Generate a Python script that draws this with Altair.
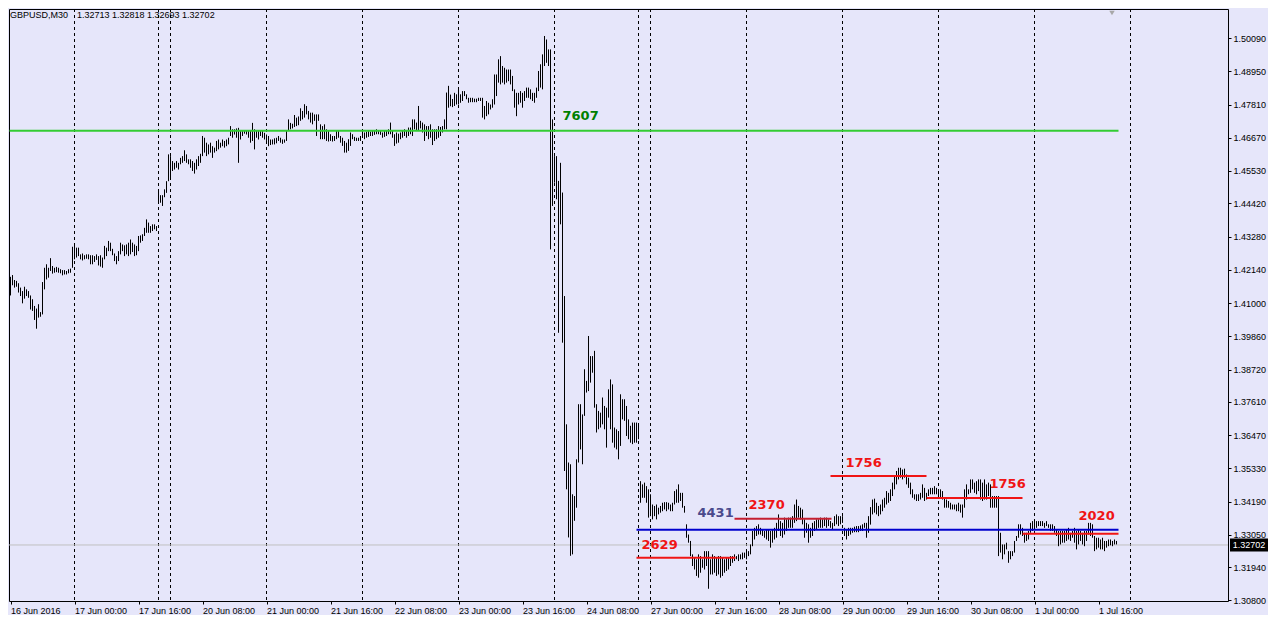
import json
import altair as alt
import pandas as pd

# ---- OHLC bars (M30), high / low per bar ----
HIGH = [
    1.4190,1.4196,1.4179,1.4176,1.4168,1.4153,1.4141,1.4156,1.4147,1.4141,
    1.4126,1.4113,1.4090,1.4081,1.4096,1.4069,1.4172,1.4221,1.4233,1.4221,
    1.4254,1.4227,1.4221,1.4224,1.4221,1.4216,1.4213,1.4213,1.4210,1.4216,
    1.4218,1.4293,1.4296,1.4290,1.4290,1.4267,1.4270,1.4264,1.4267,1.4267,
    1.4264,1.4264,1.4261,1.4267,1.4261,1.4264,1.4256,1.4296,1.4290,1.4313,
    1.4307,1.4286,1.4270,1.4261,1.4278,1.4307,1.4301,1.4298,1.4301,1.4307,
    1.4318,1.4307,1.4301,1.4296,1.4330,1.4332,1.4336,1.4358,1.4387,1.4376,
    1.4364,1.4370,1.4370,1.4364,1.4486,1.4470,1.4470,1.4490,1.4518,1.4610,
    1.4604,1.4587,1.4581,1.4587,1.4581,1.4598,1.4604,1.4624,1.4610,1.4593,
    1.4593,1.4587,1.4581,1.4593,1.4604,1.4612,1.4673,1.4667,1.4650,1.4644,
    1.4650,1.4638,1.4633,1.4656,1.4661,1.4650,1.4661,1.4656,1.4661,1.4667,
    1.4707,1.4696,1.4696,1.4699,1.4701,1.4690,1.4690,1.4692,1.4692,1.4690,
    1.4692,1.4718,1.4696,1.4690,1.4692,1.4690,1.4690,1.4684,1.4678,1.4673,
    1.4661,1.4661,1.4665,1.4667,1.4673,1.4667,1.4661,1.4661,1.4690,1.4730,
    1.4718,1.4715,1.4745,1.4736,1.4740,1.4768,1.4759,1.4782,1.4776,1.4759,
    1.4753,1.4753,1.4747,1.4747,1.4747,1.4713,1.4707,1.4713,1.4696,1.4690,
    1.4679,1.4673,1.4673,1.4690,1.4690,1.4673,1.4667,1.4656,1.4650,1.4662,
    1.4685,1.4679,1.4670,1.4667,1.4667,1.4673,1.4690,1.4685,1.4688,1.4690,
    1.4688,1.4690,1.4693,1.4696,1.4693,1.4690,1.4685,1.4690,1.4693,1.4696,
    1.4719,1.4693,1.4679,1.4685,1.4681,1.4685,1.4690,1.4696,1.4690,1.4702,
    1.4702,1.4730,1.4730,1.4719,1.4776,1.4725,1.4719,1.4713,1.4707,1.4707,
    1.4713,1.4696,1.4696,1.4696,1.4707,1.4704,1.4707,1.4730,1.4822,1.4845,
    1.4815,1.4800,1.4821,1.4816,1.4833,1.4816,1.4827,1.4827,1.4816,1.4804,
    1.4804,1.4804,1.4801,1.4801,1.4804,1.4804,1.4804,1.4776,1.4793,1.4787,
    1.4781,1.4799,1.4884,1.4884,1.4936,1.4947,1.4913,1.4907,1.4901,1.4901,
    1.4901,1.4879,1.4833,1.4821,1.4821,1.4827,1.4821,1.4827,1.4839,1.4839,
    1.4833,1.4821,1.4821,1.4839,1.4896,1.4919,1.4953,1.5016,1.5004,1.4970,
    1.4970,1.4730,1.4604,1.4604,1.4519,1.4581,1.4479,1.4124,1.3684,1.3553,
    1.3547,1.3444,1.3438,1.3564,1.3753,1.3753,1.3718,1.3873,1.3833,1.3987,
    1.3918,1.3918,1.3936,1.3753,1.3730,1.3724,1.3776,1.3747,1.3741,1.3804,
    1.3838,1.3821,1.3673,1.3667,1.3661,1.3787,1.3770,1.3770,1.3747,1.3701,
    1.3679,1.3690,1.3690,1.3690,1.3679,1.3489,1.3478,1.3484,1.3472,1.3461,
    1.3444,1.3409,1.3404,1.3409,1.3398,1.3404,1.3415,1.3417,1.3417,1.3415,
    1.3409,1.3415,1.3455,1.3461,1.3478,1.3449,1.3449,1.3404,1.3341,1.3306,
    1.3284,1.3238,1.3226,1.3221,1.3238,1.3232,1.3221,1.3249,1.3249,1.3249,
    1.3221,1.3238,1.3232,1.3226,1.3232,1.3232,1.3226,1.3221,1.3226,1.3226,
    1.3232,1.3232,1.3238,1.3232,1.3238,1.3238,1.3244,1.3244,1.3249,1.3249,
    1.3272,1.3318,1.3329,1.3335,1.3341,1.3329,1.3324,1.3318,1.3324,1.3324,
    1.3318,1.3324,1.3329,1.3346,1.3375,1.3352,1.3346,1.3364,1.3358,1.3364,
    1.3364,1.3369,1.3409,1.3426,1.3404,1.3398,1.3392,1.3358,1.3346,1.3341,
    1.3329,1.3346,1.3352,1.3358,1.3358,1.3364,1.3358,1.3364,1.3364,1.3358,
    1.3352,1.3346,1.3369,1.3375,1.3369,1.3369,1.3369,1.3329,1.3324,1.3329,
    1.3329,1.3329,1.3333,1.3335,1.3335,1.3337,1.3341,1.3346,1.3346,1.3369,
    1.3400,1.3426,1.3429,1.3415,1.3404,1.3409,1.3426,1.3432,1.3455,1.3449,
    1.3461,1.3484,1.3506,1.3524,1.3535,1.3535,1.3529,1.3532,1.3512,1.3501,
    1.3484,1.3461,1.3444,1.3444,1.3444,1.3449,1.3478,1.3466,1.3449,1.3461,
    1.3466,1.3466,1.3472,1.3466,1.3461,1.3461,1.3455,1.3432,1.3426,1.3421,
    1.3415,1.3409,1.3409,1.3409,1.3415,1.3409,1.3409,1.3461,1.3478,1.3461,
    1.3495,1.3495,1.3484,1.3489,1.3495,1.3495,1.3484,1.3495,1.3478,1.3484,
    1.3478,1.3438,1.3438,1.3438,1.3438,1.3312,1.3272,1.3272,1.3278,1.3249,
    1.3249,1.3249,1.3284,1.3301,1.3341,1.3341,1.3329,1.3312,1.3312,1.3318,
    1.3346,1.3352,1.3352,1.3352,1.3352,1.3352,1.3352,1.3346,1.3352,1.3341,
    1.3341,1.3341,1.3335,1.3324,1.3318,1.3318,1.3318,1.3318,1.3324,1.3329,
    1.3312,1.3318,1.3329,1.3318,1.3324,1.3318,1.3312,1.3318,1.3318,1.3346,
    1.3346,1.3341,1.3301,1.3295,1.3295,1.3289,1.3295,1.3284,1.3284,1.3289,
    1.3289,1.3284,1.3289,1.3284,
]
LOW = [
    1.4126,1.4161,1.4153,1.4156,1.4136,1.4124,1.4099,1.4115,1.4124,1.4118,
    1.4078,1.4073,1.4042,1.4012,1.4050,1.4053,1.4061,1.4147,1.4181,1.4187,
    1.4210,1.4201,1.4204,1.4206,1.4204,1.4202,1.4195,1.4198,1.4198,1.4202,
    1.4204,1.4221,1.4250,1.4256,1.4261,1.4250,1.4246,1.4250,1.4252,1.4250,
    1.4233,1.4233,1.4241,1.4248,1.4229,1.4225,1.4221,1.4250,1.4261,1.4278,
    1.4278,1.4264,1.4244,1.4233,1.4244,1.4267,1.4278,1.4261,1.4267,1.4261,
    1.4267,1.4275,1.4261,1.4264,1.4278,1.4307,1.4313,1.4330,1.4341,1.4341,
    1.4341,1.4347,1.4353,1.4347,1.4450,1.4444,1.4433,1.4463,1.4478,1.4518,
    1.4530,1.4553,1.4558,1.4564,1.4558,1.4576,1.4581,1.4587,1.4581,1.4576,
    1.4564,1.4553,1.4544,1.4558,1.4570,1.4581,1.4604,1.4616,1.4604,1.4610,
    1.4616,1.4598,1.4616,1.4621,1.4627,1.4633,1.4638,1.4633,1.4638,1.4644,
    1.4673,1.4667,1.4678,1.4667,1.4581,1.4661,1.4673,1.4681,1.4678,1.4667,
    1.4650,1.4656,1.4627,1.4667,1.4661,1.4673,1.4667,1.4661,1.4656,1.4638,
    1.4642,1.4644,1.4644,1.4648,1.4656,1.4650,1.4646,1.4650,1.4656,1.4690,
    1.4696,1.4699,1.4704,1.4707,1.4710,1.4725,1.4730,1.4736,1.4747,1.4730,
    1.4719,1.4713,1.4725,1.4673,1.4725,1.4662,1.4662,1.4662,1.4656,1.4654,
    1.4656,1.4654,1.4656,1.4662,1.4667,1.4650,1.4639,1.4616,1.4616,1.4622,
    1.4639,1.4662,1.4656,1.4656,1.4656,1.4656,1.4667,1.4662,1.4667,1.4670,
    1.4673,1.4673,1.4677,1.4679,1.4679,1.4677,1.4667,1.4670,1.4673,1.4679,
    1.4679,1.4667,1.4639,1.4647,1.4650,1.4662,1.4667,1.4673,1.4667,1.4673,
    1.4679,1.4673,1.4696,1.4690,1.4690,1.4699,1.4685,1.4656,1.4673,1.4662,
    1.4667,1.4642,1.4656,1.4662,1.4667,1.4673,1.4685,1.4696,1.4696,1.4770,
    1.4775,1.4772,1.4776,1.4781,1.4781,1.4787,1.4793,1.4810,1.4799,1.4787,
    1.4789,1.4789,1.4789,1.4789,1.4793,1.4793,1.4736,1.4730,1.4741,1.4747,
    1.4764,1.4770,1.4781,1.4810,1.4856,1.4850,1.4856,1.4850,1.4856,1.4861,
    1.4850,1.4827,1.4770,1.4741,1.4781,1.4787,1.4770,1.4793,1.4804,1.4804,
    1.4799,1.4793,1.4787,1.4804,1.4827,1.4839,1.4833,1.4913,1.4924,1.4913,
    1.4284,1.4433,1.4513,1.4456,1.3998,1.4370,1.3964,1.3524,1.3461,1.3296,
    1.3233,1.3238,1.3353,1.3398,1.3553,1.3598,1.3547,1.3713,1.3793,1.3798,
    1.3827,1.3861,1.3741,1.3656,1.3667,1.3673,1.3684,1.3667,1.3604,1.3707,
    1.3667,1.3621,1.3604,1.3598,1.3564,1.3610,1.3701,1.3696,1.3644,1.3633,
    1.3621,1.3616,1.3621,1.3621,1.3633,1.3415,1.3432,1.3432,1.3415,1.3364,
    1.3369,1.3358,1.3369,1.3358,1.3375,1.3381,1.3386,1.3392,1.3386,1.3392,
    1.3386,1.3386,1.3409,1.3415,1.3415,1.3421,1.3398,1.3381,1.3295,1.3278,
    1.3232,1.3198,1.3186,1.3164,1.3158,1.3175,1.3192,1.3186,1.3198,1.3120,
    1.3169,1.3169,1.3175,1.3164,1.3169,1.3158,1.3164,1.3175,1.3181,1.3186,
    1.3198,1.3209,1.3215,1.3221,1.3215,1.3221,1.3221,1.3226,1.3221,1.3232,
    1.3238,1.3266,1.3289,1.3301,1.3306,1.3306,1.3301,1.3295,1.3289,1.3284,
    1.3261,1.3278,1.3289,1.3295,1.3318,1.3301,1.3295,1.3306,1.3318,1.3329,
    1.3329,1.3329,1.3346,1.3352,1.3364,1.3358,1.3341,1.3295,1.3312,1.3278,
    1.3295,1.3301,1.3318,1.3324,1.3329,1.3329,1.3329,1.3335,1.3329,1.3335,
    1.3329,1.3324,1.3335,1.3341,1.3335,1.3341,1.3346,1.3301,1.3289,1.3301,
    1.3306,1.3312,1.3314,1.3314,1.3314,1.3318,1.3318,1.3329,1.3295,1.3312,
    1.3340,1.3375,1.3381,1.3375,1.3369,1.3375,1.3386,1.3398,1.3409,1.3415,
    1.3421,1.3438,1.3461,1.3478,1.3495,1.3501,1.3495,1.3501,1.3478,1.3466,
    1.3444,1.3432,1.3426,1.3421,1.3421,1.3426,1.3432,1.3421,1.3426,1.3438,
    1.3444,1.3444,1.3444,1.3444,1.3438,1.3432,1.3426,1.3398,1.3398,1.3398,
    1.3392,1.3392,1.3392,1.3386,1.3386,1.3381,1.3364,1.3398,1.3426,1.3444,
    1.3449,1.3461,1.3449,1.3444,1.3455,1.3426,1.3421,1.3426,1.3426,1.3438,
    1.3398,1.3398,1.3398,1.3398,1.3232,1.3244,1.3221,1.3238,1.3255,1.3209,
    1.3221,1.3232,1.3244,1.3284,1.3295,1.3306,1.3301,1.3278,1.3284,1.3289,
    1.3312,1.3318,1.3324,1.3329,1.3335,1.3335,1.3335,1.3329,1.3335,1.3329,
    1.3318,1.3318,1.3312,1.3301,1.3266,1.3272,1.3278,1.3278,1.3284,1.3289,
    1.3284,1.3295,1.3278,1.3255,1.3272,1.3284,1.3272,1.3266,1.3284,1.3306,
    1.3301,1.3295,1.3249,1.3255,1.3261,1.3255,1.3255,1.3249,1.3261,1.3266,
    1.3269,1.3266,1.3272,1.3272,
]

# ---- axes ----
DATE_LABELS = [
    "16 Jun 2016", "17 Jun 00:00", "17 Jun 16:00", "20 Jun 08:00", "21 Jun 00:00",
    "21 Jun 16:00", "22 Jun 08:00", "23 Jun 00:00", "23 Jun 16:00", "24 Jun 08:00",
    "27 Jun 00:00", "27 Jun 16:00", "28 Jun 08:00", "29 Jun 00:00", "29 Jun 16:00",
    "30 Jun 08:00", "1 Jul 00:00", "1 Jul 16:00",
]
LABEL_STEP = 32
PRICE_TICKS = [1.50090, 1.48950, 1.47810, 1.46670, 1.45530, 1.44420, 1.43280, 1.42140,
               1.41000, 1.39860, 1.38720, 1.37610, 1.36470, 1.35330, 1.34190, 1.33050,
               1.31940, 1.30800]
GRID_BARS = [32, 74, 80, 128, 176, 224, 272, 314, 320, 368, 416, 464, 512, 560]

# ---- horizontal levels ----
LEVEL_START = [-0.5, 313, 313, 362, 410, 458, 506]
LEVEL_END = [554, 554, 362.5, 410.5, 458, 506, 554]
LEVEL_PRICE = [1.4691, 1.3322, 1.3226, 1.3360, 1.3507, 1.3431, 1.3309]
LEVEL_COLOR = ["#33CC33", "#0000CD", "#F01414", "#C41E30", "#F01414", "#F01414", "#F01414"]

# ---- annotation texts ----
NOTE_TEXT = ["7607", "4431", "2370", "2629", "1756", "1756", "2020"]
NOTE_BAR = [276, 343.5, 369, 315.5, 417.5, 489.5, 534]
NOTE_PRICE = [1.4742, 1.3380, 1.3406, 1.3270, 1.3551, 1.3481, 1.3371]
NOTE_COLOR = ["#008000", "#4A4A8C", "#F01414", "#F01414", "#F01414", "#F01414", "#F01414"]

BID = 1.32702
TITLE_SYMBOL = "GBPUSD,M30"
TITLE_OHLC = "1.32713 1.32818 1.32693 1.32702"

assert len(HIGH) == len(LOW)

bars = pd.DataFrame({"i": list(range(len(HIGH))), "high": HIGH, "low": LOW})
grid = pd.DataFrame({"i": GRID_BARS})
levels = pd.DataFrame({"s": LEVEL_START, "e": LEVEL_END, "p": LEVEL_PRICE, "c": LEVEL_COLOR})
notes = pd.DataFrame({"t": NOTE_TEXT, "i": NOTE_BAR, "p": NOTE_PRICE, "c": NOTE_COLOR})
bid = pd.DataFrame({"p": [BID], "t": [f"{BID:.5f}"]})

W, H = 1219, 592
FONT = "Liberation Sans"

xs = alt.Scale(domain=[-0.75, -0.75 + W / 2], nice=False, zero=False)
ys = alt.Scale(domain=[1.3078, 1.51086], nice=False, zero=False)

x_axis = alt.Axis(
    values=[k * LABEL_STEP for k in range(len(DATE_LABELS))],
    labelExpr=json.dumps(DATE_LABELS) + "[round(datum.value / %d)]" % LABEL_STEP,
    labelAlign="left", labelBaseline="top", labelPadding=2, tickSize=3,
    labelFont=FONT, labelFontSize=9, labelColor="black", tickColor="black",
    domain=False, grid=False, labelFlush=False, labelOverlap=False, title=None,
)
y_axis = alt.Axis(
    orient="right", values=PRICE_TICKS, format=".5f", tickSize=3, labelPadding=2,
    labelFont=FONT, labelFontSize=9, labelColor="black", tickColor="black",
    domain=False, grid=False, labelFlush=False, labelOverlap=False, title=None,
)

grid_layer = alt.Chart(grid).mark_rule(color="black", strokeWidth=1, strokeDash=[3, 3]).encode(
    x=alt.X("i:Q", scale=xs, axis=x_axis)
)
bid_line = alt.Chart(bid).mark_rule(color="#C0C0C0", strokeWidth=1).encode(
    y=alt.Y("p:Q", scale=ys, axis=y_axis)
)
bar_layer = alt.Chart(bars).mark_rule(color="black", strokeWidth=1).encode(
    x=alt.X("i:Q", scale=xs, axis=x_axis),
    y=alt.Y("low:Q", scale=ys, axis=y_axis),
    y2="high:Q",
)
level_layer = alt.Chart(levels).mark_rule(strokeWidth=2).encode(
    x=alt.X("s:Q", scale=xs, axis=x_axis),
    x2="e:Q",
    y=alt.Y("p:Q", scale=ys, axis=y_axis),
    color=alt.Color("c:N", scale=None),
)
note_layer = alt.Chart(notes).mark_text(
    font="DejaVu Sans", fontWeight="bold", fontSize=13, align="left", baseline="middle"
).encode(
    x=alt.X("i:Q", scale=xs, axis=x_axis),
    y=alt.Y("p:Q", scale=ys, axis=y_axis),
    text="t:N",
    color=alt.Color("c:N", scale=None),
)
bid_box = alt.Chart(bid).mark_point(
    shape="M-1,-0.34L1,-0.34L1,0.34L-1,0.34Z", size=1444, filled=True,
    color="black", opacity=1, strokeWidth=0,
).encode(x=alt.value(W + 21), y=alt.Y("p:Q", scale=ys, axis=y_axis))
bid_text = alt.Chart(bid).mark_text(
    color="white", font=FONT, fontSize=9, align="center", baseline="middle"
).encode(x=alt.value(W + 21), y=alt.Y("p:Q", scale=ys, axis=y_axis), text="t:N")

title_sym = alt.Chart(pd.DataFrame({"t": [TITLE_SYMBOL]})).mark_text(
    font=FONT, fontSize=9, align="left", baseline="middle", color="black"
).encode(x=alt.value(1), y=alt.value(6), text="t:N")
title_ohlc = alt.Chart(pd.DataFrame({"t": [TITLE_OHLC]})).mark_text(
    font=FONT, fontSize=9, align="left", baseline="middle", color="black"
).encode(x=alt.value(68), y=alt.value(6), text="t:N")
shift_mark = alt.Chart(pd.DataFrame({"t": [""]})).mark_point(
    shape="triangle-down", filled=True, color="#A8A8A8", opacity=1, size=30, strokeWidth=0
).encode(x=alt.value(1103), y=alt.value(4))

chart = alt.layer(
    grid_layer, bid_line, bar_layer, level_layer, note_layer,
    bid_box, bid_text, title_sym, title_ohlc, shift_mark,
).properties(
    width=W, height=H, background="#E6E6FA",
    padding={"left": 0, "top": 0, "right": 0, "bottom": 0},
).configure_view(stroke="black", strokeWidth=1)

chart.save("out.html", embed_options={"renderer": "svg", "actions": False})
